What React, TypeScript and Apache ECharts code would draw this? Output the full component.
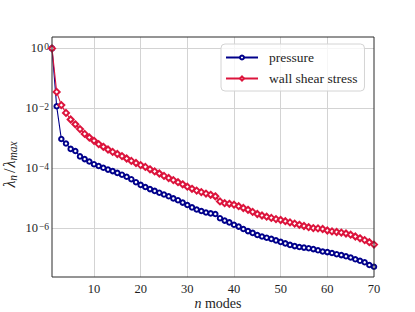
import React, { useEffect, useRef } from "react";
import * as echarts from "echarts";

// x: mode number n = 1..70
const modes: number[] = Array.from({ length: 70 }, (_, i) => i + 1);

// log10(lambda_n / lambda_max)
const pressureLog10: number[] = [
  0, -1.93, -3.02, -3.17, -3.35, -3.42, -3.6, -3.69, -3.77, -3.86,
  -3.92, -3.98, -4.04, -4.09, -4.15, -4.21, -4.28, -4.36, -4.46, -4.55,
  -4.62, -4.69, -4.75, -4.81, -4.87, -4.93, -5.0, -5.06, -5.14, -5.22,
  -5.3, -5.37, -5.42, -5.47, -5.5, -5.52, -5.66, -5.74, -5.8, -5.88,
  -5.94, -6.02, -6.09, -6.15, -6.22, -6.27, -6.31, -6.35, -6.4, -6.45,
  -6.5, -6.55, -6.59, -6.62, -6.64, -6.66, -6.69, -6.73, -6.77, -6.79,
  -6.82, -6.86, -6.89, -6.93, -6.97, -7.03, -7.08, -7.13, -7.22, -7.28,
];

const wssLog10: number[] = [
  0, -1.45, -1.89, -2.15, -2.37, -2.53, -2.69, -2.85, -2.97, -3.08,
  -3.19, -3.28, -3.37, -3.45, -3.52, -3.59, -3.67, -3.75, -3.82, -3.89,
  -3.95, -4.03, -4.1, -4.17, -4.25, -4.32, -4.39, -4.46, -4.53, -4.61,
  -4.68, -4.74, -4.79, -4.84, -4.88, -4.93, -5.1, -5.16, -5.18, -5.21,
  -5.26, -5.32, -5.38, -5.45, -5.52, -5.57, -5.61, -5.65, -5.69, -5.72,
  -5.76, -5.8, -5.84, -5.88, -5.92, -5.96, -5.99, -6.0, -6.02, -6.07,
  -6.1, -6.12, -6.14, -6.17, -6.21, -6.27, -6.33, -6.39, -6.46, -6.54,
];

const seriesNames = ["pressure", "wall shear stress"];
const xRange = [1, 70];
const yLogRange = [-7.62, 0.38];

const FONT = "Liberation Serif";
const TXT = "#1e1e1e";
const PRESSURE_COLOR = "#00008b";
const WSS_COLOR = "#dc143c";

export default function App() {
  const ref = useRef<HTMLDivElement>(null);

  useEffect(() => {
    if (!ref.current) return;
    const chart = echarts.init(ref.current, null, { renderer: "svg" });

    const option: any = {
      animation: false,
      backgroundColor: "#ffffff",
      textStyle: { fontFamily: FONT },
      grid: {
        left: 52,
        right: 41,
        top: 37,
        bottom: 35,
        show: true,
        borderColor: "#2a2a2a",
        borderWidth: 1,
        backgroundColor: "transparent",
        z: 3,
      },
      xAxis: {
        type: "value",
        min: xRange[0],
        max: xRange[1],
        splitNumber: 7,
        axisLine: { show: false },
        axisTick: { show: false },
        axisLabel: {
          showMinLabel: false,
          margin: 5,
          fontFamily: FONT,
          fontSize: 12.5,
          color: TXT,
        },
        splitLine: {
          show: true,
          showMinLine: false,
          showMaxLine: false,
          lineStyle: { color: "#d3d3d3", width: 1 },
        },
      },
      yAxis: {
        type: "value",
        min: yLogRange[0],
        max: yLogRange[1],
        splitNumber: 4,
        axisLine: { show: false },
        axisTick: { show: false },
        axisLabel: {
          showMinLabel: false,
          showMaxLabel: false,
          margin: 3,
          fontFamily: FONT,
          color: TXT,
          formatter: (v: number) => {
            if (Math.abs(v - Math.round(v)) > 1e-6) return "";
            const e = Math.round(v);
            return `{b|10}{s|${e < 0 ? "\u2212" : ""}${Math.abs(e)}}`;
          },
          rich: {
            b: { fontFamily: FONT, fontSize: 12.5, lineHeight: 13, color: TXT },
            s: {
              fontFamily: FONT,
              fontSize: 9.5,
              lineHeight: 10,
              verticalAlign: "top",
              padding: [0, 0, 0, 1],
              color: TXT,
            },
          },
        },
        splitLine: {
          show: true,
          showMinLine: false,
          showMaxLine: false,
          lineStyle: { color: "#d3d3d3", width: 1 },
        },
      },
      legend: {
        orient: "vertical",
        left: 221,
        top: 44,
        padding: [6, 7, 5, 4],
        itemGap: 6,
        itemWidth: 32,
        itemHeight: 5,
        backgroundColor: "rgba(255,255,255,0.8)",
        borderColor: "#d4d4d4",
        borderWidth: 1,
        borderRadius: 4,
        textStyle: {
          fontFamily: FONT,
          fontSize: 13.5,
          lineHeight: 15,
          color: TXT,
          padding: [0, 0, 0, 6],
        },
        data: seriesNames,
      },
      series: [
        {
          name: seriesNames[0],
          type: "line",
          data: modes.map((n, i) => [n, pressureLog10[i]]),
          color: PRESSURE_COLOR,
          symbol: "emptyCircle",
          symbolSize: 4.5,
          lineStyle: { width: 1.1, color: PRESSURE_COLOR },
          itemStyle: { color: PRESSURE_COLOR, borderWidth: 1 },
          z: 2,
        },
        {
          name: seriesNames[1],
          type: "line",
          data: modes.map((n, i) => [n, wssLog10[i]]),
          color: WSS_COLOR,
          symbol: "emptyDiamond",
          symbolSize: 6,
          lineStyle: { width: 1.1, color: WSS_COLOR },
          itemStyle: { color: WSS_COLOR, borderWidth: 1 },
          z: 2,
        },
      ],
      graphic: [
        {
          type: "text",
          x: 218,
          y: 303,
          style: {
            text: "{i|n} {r|modes}",
            align: "center",
            verticalAlign: "middle",
            fill: TXT,
            rich: {
              i: { fontFamily: FONT, fontSize: 14, fontStyle: "italic", fill: TXT },
              r: { fontFamily: FONT, fontSize: 14, fill: TXT },
            },
          },
        },
        {
          type: "text",
          x: 11,
          y: 164,
          rotation: Math.PI / 2,
          style: {
            text: "{l|\u03bb}{sub|n}{sl|/}{l|\u03bb}{sub|max}",
            align: "center",
            verticalAlign: "middle",
            fill: TXT,
            rich: {
              l: {
                fontFamily: FONT,
                fontSize: 16,
                fontStyle: "italic",
                lineHeight: 15,
                padding: [0, 0, 4, 0],
                fill: TXT,
              },
              sl: {
                fontFamily: FONT,
                fontSize: 16,
                lineHeight: 15,
                padding: [0, 1, 4, 1],
                fill: TXT,
              },
              sub: {
                fontFamily: FONT,
                fontSize: 11.5,
                fontStyle: "italic",
                lineHeight: 11,
                verticalAlign: "bottom",
                padding: [0, 1, 0, 0],
                fill: TXT,
              },
            },
          },
        },
      ],
    };

    chart.setOption(option);
    return () => chart.dispose();
  }, []);

  return (
    <div
      ref={ref}
      style={{ position: "fixed", left: 0, top: 0, width: 415, height: 312 }}
    />
  );
}
